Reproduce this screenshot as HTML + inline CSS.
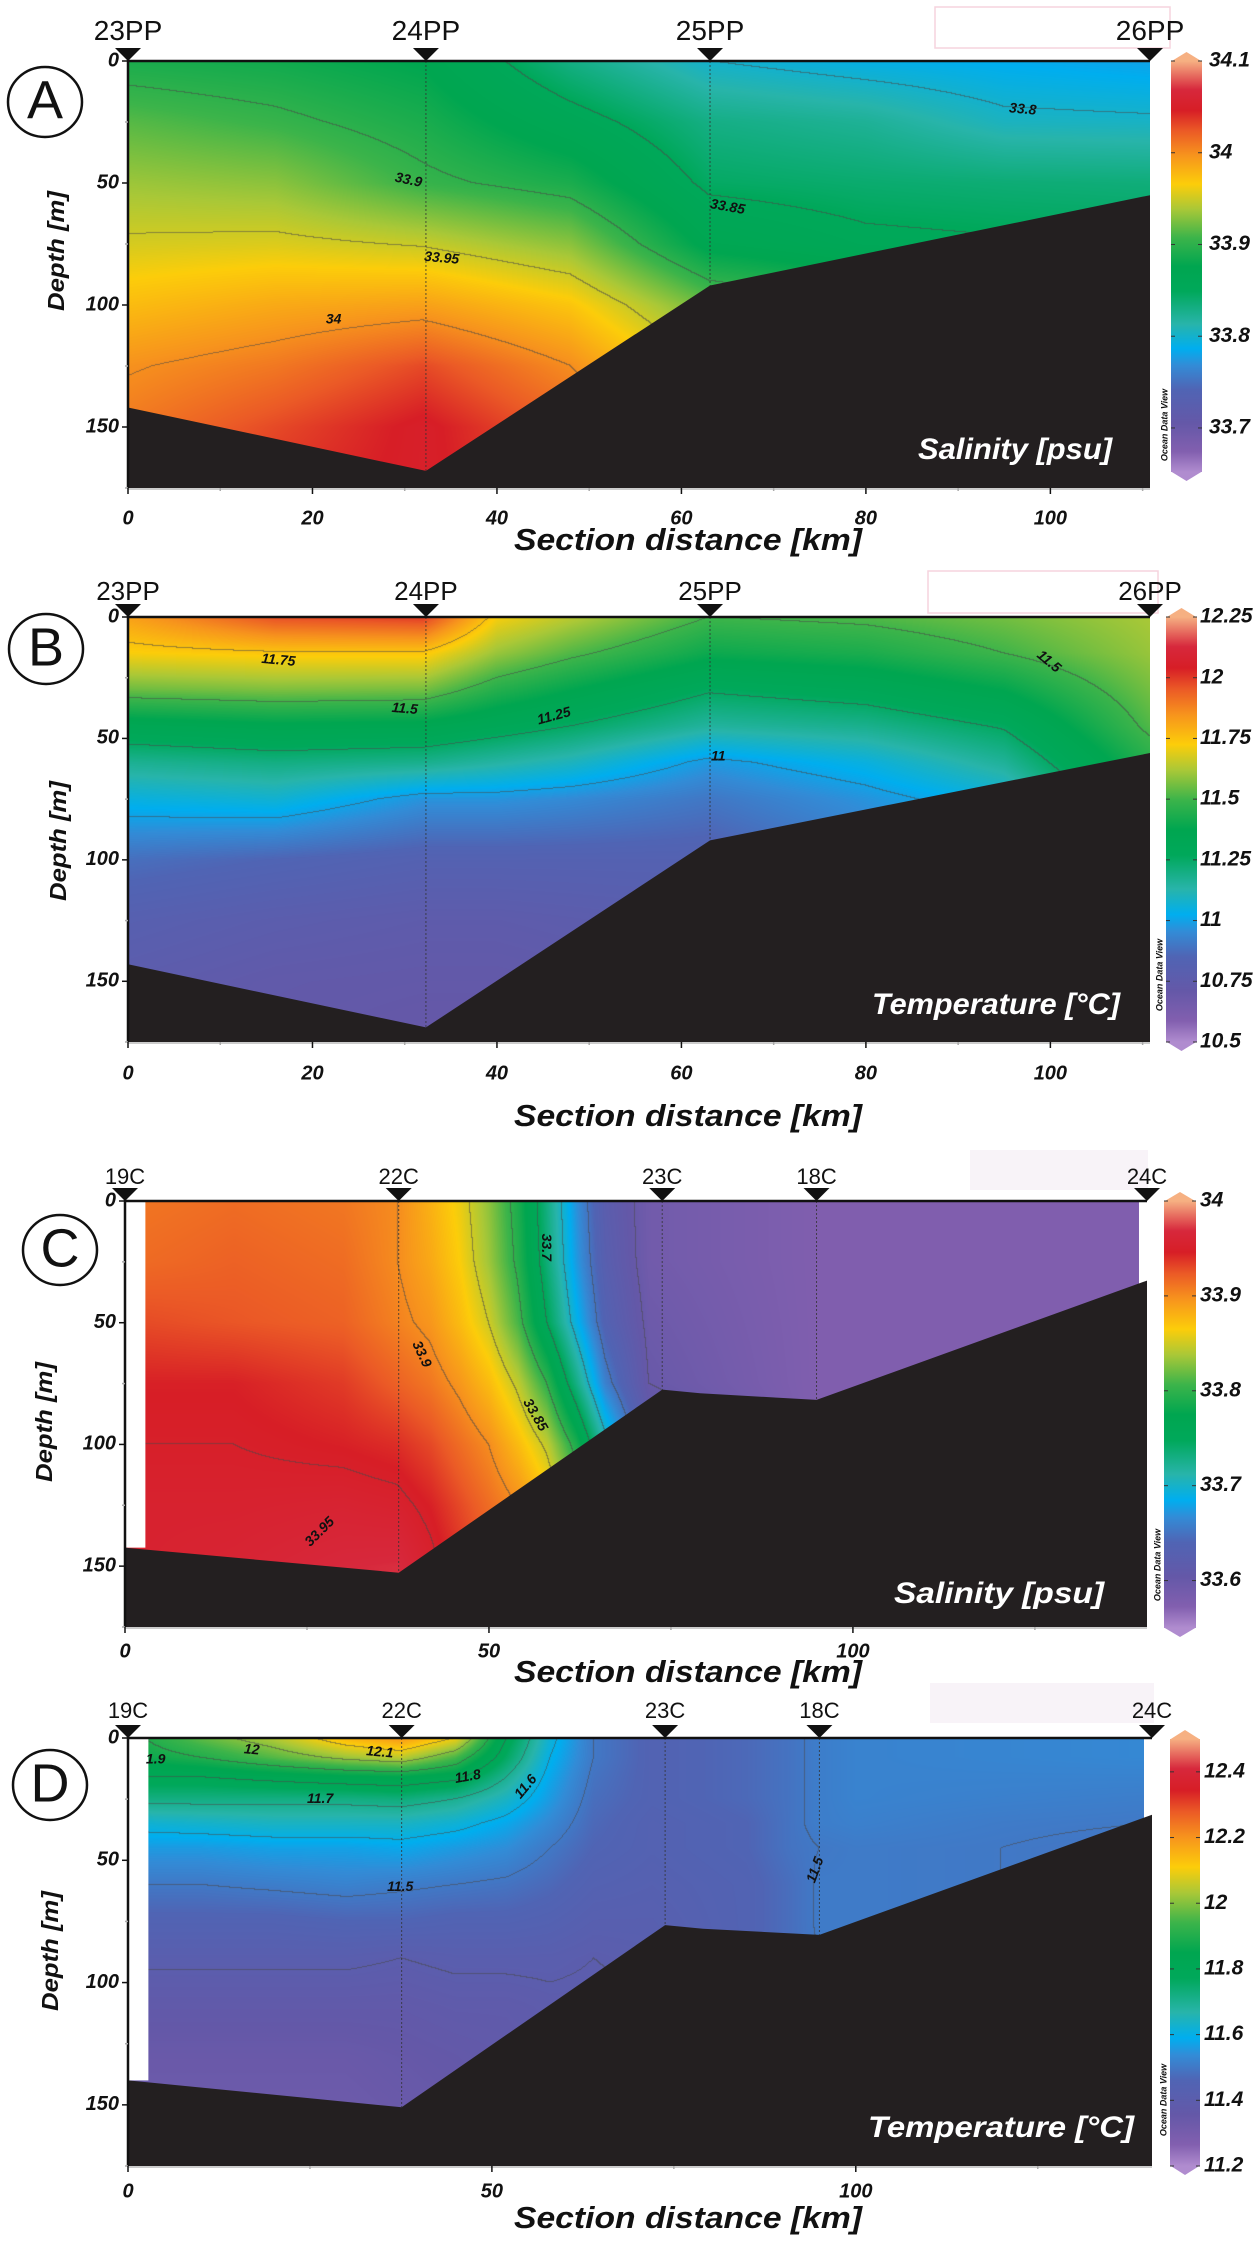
<!DOCTYPE html>
<html><head><meta charset="utf-8">
<style>
html,body{margin:0;padding:0;background:#fff;}
#wrap{position:relative;width:1254px;height:2244px;overflow:hidden;background:#fff;}
canvas{position:absolute;}
#ov{position:absolute;left:0;top:0;}
</style></head>
<body>
<div id="wrap">
<canvas id="cvA"></canvas>
<canvas id="cvB"></canvas>
<canvas id="cvC"></canvas>
<canvas id="cvD"></canvas>
<svg id="ov" width="1254" height="2244" xmlns="http://www.w3.org/2000/svg"></svg>
</div>
<script>
// ---------- DATA ----------
const salA_x = [0,16,32,48,63,80,95,110.8];
const salA_depth = [0,25,50,75,100,125,150,175];
const salA_values = [
 [33.89,33.915,33.935,33.953,33.975,33.998,34.01,34.02],
 [33.885,33.905,33.93,33.955,33.985,34.01,34.03,34.04],
 [33.875,33.89,33.905,33.948,33.99,34.03,34.05,34.05],
 [33.83,33.86,33.89,33.93,33.97,34.0,34.02,34.03],
 [33.80,33.83,33.845,33.87,33.92,33.95,33.97,33.98],
 [33.79,33.822,33.84,33.855,33.9,33.93,33.95,33.96],
 [33.785,33.805,33.837,33.852,33.89,33.92,33.94,33.95],
 [33.78,33.803,33.835,33.85,33.88,33.9,33.92,33.93]
];
const salA_levels = [33.8,33.85,33.9,33.95,34];
const bathyA_x = [0,32.3,63.1,110.8];
const bathyA_depth = [142,168,92,55];
const stationsA_x = [0,32.3,63.1,110.8];
const stationsA_names = ["23PP","24PP","25PP","26PP"];
const cbA_ticks = [34.1,34,33.9,33.8,33.7];

const tempB_x = [0,16,32,40,48,63,80,95,110.8];
const tempB_depth = [0,15,30,45,60,75,100,125,150,175];
const tempB_values = [
 [11.82,11.72,11.55,11.33,11.17,11.05,10.88,10.8,10.76,10.75],
 [11.97,11.74,11.57,11.36,11.2,11.07,10.85,10.77,10.73,10.72],
 [12.0,11.74,11.56,11.35,11.18,10.97,10.82,10.75,10.72,10.7],
 [11.72,11.6,11.45,11.3,11.14,10.97,10.82,10.75,10.72,10.7],
 [11.64,11.52,11.38,11.25,11.1,10.95,10.82,10.76,10.73,10.72],
 [11.5,11.4,11.26,11.15,10.98,10.9,10.82,10.78,10.75,10.74],
 [11.52,11.43,11.3,11.18,11.05,10.97,10.9,10.85,10.8,10.8],
 [11.56,11.5,11.38,11.26,11.16,11.05,10.95,10.9,10.85,10.85],
 [11.62,11.6,11.56,11.52,11.45,11.4,11.3,11.2,11.1,11.1]
];
const tempB_levels = [11,11.25,11.5,11.75];
const bathyB_x = [0,32.3,63.1,110.8];
const bathyB_depth = [143,169,92,56];
const stationsB_x = [0,32.3,63.1,110.8];
const stationsB_names = ["23PP","24PP","25PP","26PP"];
const cbB_ticks = [12.25,12,11.75,11.5,11.25,11,10.75,10.5];

const salC_x = [0,15,30,37.5,42,46,50,54,58,62,66,72,95,140.4];
const salC_depth = [0,25,50,75,100,125,150,175];
const salC_values = [
 [33.91,33.915,33.93,33.945,33.95,33.955,33.955,33.955],
 [33.915,33.92,33.925,33.945,33.95,33.955,33.96,33.96],
 [33.91,33.915,33.92,33.935,33.945,33.958,33.968,33.968],
 [33.9,33.9,33.905,33.92,33.94,33.955,33.97,33.97],
 [33.88,33.885,33.895,33.91,33.93,33.945,33.955,33.955],
 [33.86,33.865,33.875,33.895,33.915,33.93,33.94,33.94],
 [33.83,33.835,33.85,33.875,33.9,33.915,33.925,33.925],
 [33.79,33.795,33.81,33.845,33.875,33.9,33.91,33.91],
 [33.73,33.735,33.75,33.8,33.845,33.875,33.89,33.89],
 [33.67,33.675,33.69,33.73,33.79,33.83,33.85,33.85],
 [33.62,33.625,33.635,33.66,33.71,33.76,33.78,33.78],
 [33.59,33.59,33.595,33.6,33.62,33.64,33.65,33.65],
 [33.575,33.575,33.575,33.575,33.575,33.575,33.575,33.575],
 [33.575,33.575,33.575,33.575,33.575,33.575,33.575,33.575]
];
const salC_levels = [33.6,33.65,33.7,33.75,33.8,33.85,33.9,33.95];
const bathyC_x = [0,37.6,73.8,79,95,140.4];
const bathyC_depth = [142.4,152.7,77.5,79,81.7,32.7];
const stationsC_x = [0,37.6,73.8,95,140.4];
const stationsC_names = ["19C","22C","23C","18C","24C"];
const cbC_ticks = [34,33.9,33.8,33.7,33.6];

const tempD_x = [0,10,20,30,37.5,45,52,58,64,72,85,91,95,100,120,140.7];
const tempD_depth = [0,8,16,25,35,45,60,75,90,110,130,150,175];
const tempD_values = [
 [11.88,11.86,11.8,11.72,11.62,11.56,11.5,11.45,11.41,11.37,11.34,11.33,11.33],
 [11.97,11.9,11.8,11.72,11.63,11.56,11.5,11.45,11.41,11.37,11.34,11.33,11.33],
 [12.04,11.96,11.82,11.72,11.64,11.57,11.51,11.45,11.41,11.37,11.34,11.33,11.33],
 [12.15,12.02,11.84,11.72,11.64,11.57,11.52,11.46,11.41,11.37,11.34,11.33,11.33],
 [12.2,12.05,11.85,11.73,11.64,11.58,11.51,11.46,11.4,11.37,11.35,11.34,11.34],
 [12.1,11.95,11.82,11.7,11.62,11.56,11.5,11.45,11.41,11.38,11.36,11.35,11.35],
 [11.8,11.76,11.7,11.64,11.58,11.54,11.49,11.45,11.41,11.38,11.37,11.36,11.36],
 [11.62,11.6,11.58,11.56,11.53,11.5,11.47,11.44,11.41,11.39,11.38,11.37,11.37],
 [11.5,11.5,11.49,11.48,11.47,11.46,11.44,11.42,11.4,11.39,11.38,11.38,11.38],
 [11.45,11.45,11.45,11.45,11.44,11.44,11.43,11.42,11.41,11.4,11.4,11.4,11.4],
 [11.47,11.47,11.47,11.47,11.46,11.46,11.45,11.45,11.45,11.45,11.45,11.45,11.45],
 [11.49,11.49,11.49,11.49,11.49,11.49,11.48,11.48,11.48,11.48,11.48,11.48,11.48],
 [11.51,11.51,11.51,11.51,11.51,11.5,11.505,11.505,11.5,11.5,11.5,11.5,11.5],
 [11.52,11.52,11.52,11.52,11.515,11.505,11.505,11.505,11.505,11.505,11.505,11.505,11.505],
 [11.525,11.525,11.52,11.515,11.505,11.5,11.5,11.5,11.5,11.5,11.5,11.5,11.5],
 [11.53,11.53,11.52,11.51,11.5,11.49,11.49,11.49,11.49,11.49,11.49,11.49,11.49]
];
const tempD_levels = [11.4,11.5,11.6,11.7,11.8,11.9,12,12.1];
const bathyD_x = [0,37.6,73.8,79,95,140.7];
const bathyD_depth = [140,151,76.5,78,80.5,31.4];
const stationsD_x = [0,37.6,73.8,95,140.7];
const stationsD_names = ["19C","22C","23C","18C","24C"];
const cbD_ticks = [12.4,12.2,12,11.8,11.6,11.4,11.2];

const labelsA = [["33.9",30.4,49,12],["33.95",34,81,5],["34",22.3,106,0],["33.85",65,60,10],["33.8",97,20,5]];
const labelsB = [["11.75",16.3,18,5],["11.5",30,38,5],["11.25",46.2,41,-15],["11",64,57.6,0],["11.5",99.8,18.5,40]];
const labelsC = [["33.7",57.8,19,90],["33.9",40.7,63,65],["33.85",56.3,88,60],["33.95",26.8,136,-45]];
const labelsD = [["1.9",3.8,9,0],["12",17,5,5],["12.1",34.6,6,5],["11.8",46.7,16,-10],["11.7",26.4,25,0],["11.6",54.7,20,-50],["11.5",37.4,61,0],["11.5",94.5,54,-70]];

// ---------- COLORMAP ----------
const CMAP = [
 [0.0,[176,140,207]],[0.05,[130,95,175]],[0.12,[100,88,168]],[0.2,[80,100,180]],
 [0.26,[50,140,215]],[0.3,[0,174,239]],[0.36,[40,180,170]],[0.44,[0,168,90]],
 [0.5,[0,166,80]],[0.57,[60,180,74]],[0.64,[170,200,55]],[0.7,[252,205,10]],
 [0.77,[247,148,29]],[0.83,[235,90,38]],[0.88,[215,30,38]],[0.93,[215,40,60]],[1.0,[246,176,130]]
];
function cmap(f){
  f=Math.max(0,Math.min(1,f));
  for(let i=0;i<CMAP.length-1;i++){
    const a=CMAP[i],b=CMAP[i+1];
    if(f<=b[0]){const t=(f-a[0])/(b[0]-a[0]);return [0,1,2].map(k=>a[1][k]+(b[1][k]-a[1][k])*t);}
  }
  return CMAP[CMAP.length-1][1];
}
function findIdx(arr,v){
  let i=0;while(i<arr.length-2&&v>arr[i+1])i++;
  let t=(v-arr[i])/(arr[i+1]-arr[i]);t=Math.max(0,Math.min(1,t));
  return [i,t];
}
function interp(xs,ds,vals,x,d){
  const [i,tx]=findIdx(xs,x);const [j,td]=findIdx(ds,d);
  const v00=vals[i][j],v01=vals[i][j+1],v10=vals[i+1][j],v11=vals[i+1][j+1];
  return (v00*(1-td)+v01*td)*(1-tx)+(v10*(1-td)+v11*td)*tx;
}

// ---------- LAYOUT ----------
const panels = [
 {id:'A',cv:'cvA',left:128,top:61,right:1150,bottom:488,xmax:110.8,dmax:175,xs:salA_x,ds:salA_depth,vals:salA_values,levels:salA_levels,
  bx:bathyA_x,bd:bathyA_depth,sx:stationsA_x,sn:stationsA_names,ticks:cbA_ticks,labels:labelsA,xt:[0,20,40,60,80,100],xminor:10,
  cb:{x:1171,w:31,y0:61,y1:472,vmax:34.1,vmin:33.652,lx:1209},gap:false,letter:'A',lc:[45,102],
  stY:40,stFont:28,narrow:false,title:'Salinity [psu]',tR:1112,tY:451,tW:194,axY:542,depthX:58,depthY:251,xlY:519,otY:425,pink:[935,7,235,41,false]},
 {id:'B',cv:'cvB',left:128,top:617,right:1150,bottom:1042,xmax:110.8,dmax:175,xs:tempB_x,ds:tempB_depth,vals:tempB_values,levels:tempB_levels,
  bx:bathyB_x,bd:bathyB_depth,sx:stationsB_x,sn:stationsB_names,ticks:cbB_ticks,labels:labelsB,xt:[0,20,40,60,80,100],xminor:10,
  cb:{x:1166,w:31,y0:617,y1:1042,vmax:12.25,vmin:10.5,lx:1200},gap:false,letter:'B',lc:[46,649],
  stY:600,stFont:26,narrow:true,title:'Temperature [°C]',tR:1120,tY:1006,tW:248,axY:1118,depthX:60,depthY:841,xlY:1074,otY:975,pink:[928,571,230,42,false]},
 {id:'C',cv:'cvC',left:125,top:1201,right:1147,bottom:1627,xmax:140.4,dmax:175,xs:salC_x,ds:salC_depth,vals:salC_values,levels:salC_levels,
  bx:bathyC_x,bd:bathyC_depth,sx:stationsC_x,sn:stationsC_names,ticks:cbC_ticks,labels:labelsC,xt:[0,50,100],xminor:25,
  cb:{x:1164,w:32,y0:1201,y1:1628,vmax:34,vmin:33.55,lx:1200},gap:true,letter:'C',lc:[60,1250],
  stY:1184,stFont:22,narrow:true,title:'Salinity [psu]',tR:1104,tY:1595,tW:210,axY:1674,depthX:46,depthY:1422,xlY:1652,otY:1565,pink:[970,1150,178,40,true]},
 {id:'D',cv:'cvD',left:128,top:1738,right:1152,bottom:2166,xmax:140.7,dmax:175,xs:tempD_x,ds:tempD_depth,vals:tempD_values,levels:tempD_levels,
  bx:bathyD_x,bd:bathyD_depth,sx:stationsD_x,sn:stationsD_names,ticks:cbD_ticks,labels:labelsD,xt:[0,50,100],xminor:25,
  cb:{x:1170,w:30,y0:1739,y1:2166,vmax:12.5,vmin:11.2,lx:1204},gap:true,letter:'D',lc:[50,1785],
  stY:1718,stFont:22,narrow:true,title:'Temperature [°C]',tR:1134,tY:2129,tW:266,axY:2220,depthX:52,depthY:1951,xlY:2192,otY:2100,pink:[930,1683,224,40,true]}
];

const NS='http://www.w3.org/2000/svg';
const svg=document.getElementById('ov');
function mk(tag,attrs,parent){const e=document.createElementNS(NS,tag);for(const k in attrs)e.setAttribute(k,attrs[k]);(parent||svg).appendChild(e);return e;}
const BOLDI='font-weight:bold;font-style:italic;';

panels.forEach(p=>{
  const W=p.right-p.left,H=p.bottom-p.top;
  const X=km=>p.left+km/p.xmax*W;
  const Y=d=>p.top+d/p.dmax*H;
  const cb=p.cb;
  const F=v=>(v-cb.vmin)/(cb.vmax-cb.vmin);
  const cv=document.getElementById(p.cv);
  cv.width=W;cv.height=H;cv.style.left=p.left+'px';cv.style.top=p.top+'px';
  const ctx=cv.getContext('2d');
  const img=ctx.createImageData(W,H);
  const lv=new Int16Array(W*H);const vv=new Float32Array(W*H);
  for(let py=0;py<H;py++){const d=(py+0.5)/H*p.dmax;
    for(let px=0;px<W;px++){const km=(px+0.5)/W*p.xmax;
      const v=interp(p.xs,p.ds,p.vals,km,d);vv[py*W+px]=v;
      let c=0;for(const L of p.levels)if(v>=L)c++;lv[py*W+px]=c;}}
  for(let py=0;py<H;py++)for(let px=0;px<W;px++){
    const k=py*W+px;let col=cmap(F(vv[k]));
    const isC=(px<W-1&&lv[k]!==lv[k+1])||(py<H-1&&lv[k]!==lv[k+W]);
    if(isC)col=col.map(c=>c*0.45+40);
    img.data[k*4]=col[0];img.data[k*4+1]=col[1];img.data[k*4+2]=col[2];img.data[k*4+3]=255;}
  ctx.putImageData(img,0,0);

  const g=mk('g',{});
  
  

  // pink box (drawn first so labels stay on top)
  const pk=mk('rect',{x:p.pink[0],y:p.pink[1],width:p.pink[2],height:p.pink[3],fill:p.pink[4]?'#f8f3f8':'none',stroke:p.pink[4]?'none':'#f6d4de','stroke-width':1.5},g);
  
  

  if(p.gap){
    const bl=p.bd[0];
    const r1=mk('rect',{x:p.left,y:p.top,width:X(2.8)-p.left,height:Y(bl)-p.top,fill:'#fff'},g);
    
    
    const r2=mk('rect',{x:X(p.xmax-1.1),y:p.top,width:X(p.xmax)-X(p.xmax-1.1),height:Y(p.bd[p.bd.length-1]+3)-p.top,fill:'#fff'},g);
    
    
  }
  p.sx.forEach((s,i)=>{
    if(i===0||i===p.sx.length-1)return;
    const [bi,bt]=findIdx(p.bx,s);const bd=p.bd[bi]+(p.bd[bi+1]-p.bd[bi])*bt;
    const l=mk('line',{x1:X(s),y1:p.top,x2:X(s),y2:Y(bd),stroke:'#333','stroke-width':1,'stroke-dasharray':'2,2',opacity:0.8},g);
    
    
  });
  p.labels.forEach(lb=>{
    const t=mk('text',{x:X(lb[1]),y:Y(lb[2]),'text-anchor':'middle','dominant-baseline':'middle',
      transform:`rotate(${lb[3]} ${X(lb[1])} ${Y(lb[2])})`,style:BOLDI+'font-family:"Liberation Sans Narrow","Liberation Sans",sans-serif;font-size:14px;fill:#111;'},g);
    t.textContent=lb[0];
    
    
  });
  let pts=`${X(0)},${Y(p.dmax)} `;
  p.bx.forEach((x,i)=>{pts+=`${X(x)},${Y(p.bd[i])} `;});
  pts+=`${X(p.xmax)},${Y(p.dmax)}`;
  const bp=mk('polygon',{points:pts,fill:'#231f20'},g);
  
  
  const it=mk('text',{x:p.tR,y:p.tY,'text-anchor':'end','dominant-baseline':'middle',textLength:p.tW,lengthAdjust:'spacingAndGlyphs',
    style:BOLDI+'font-family:"Liberation Sans",sans-serif;font-size:30px;fill:#fff;'},g);
  it.textContent=p.title;
  
  
  const ax=mk('path',{d:`M${p.left},${p.bottom} L${p.left},${p.top} L${p.right},${p.top}`,fill:'none',stroke:'#111','stroke-width':2.5},g);
  
  
  const xb=mk('line',{x1:p.left,y1:p.bottom+1,x2:p.right,y2:p.bottom+1,stroke:'#999','stroke-width':1},g);
  
  
  for(let d=0;d<=p.dmax;d+=25){
    const major=d%50===0;
    const tk=mk('line',{x1:p.left-(major?6:3),y1:Y(d),x2:p.left,y2:Y(d),stroke:major?'#111':'#aaa','stroke-width':1.5},g);
    
    
    if(major&&d<=150){
      const t=mk('text',{x:p.left-9,y:Y(d),'text-anchor':'end','dominant-baseline':'middle',
        style:BOLDI+`font-family:${p.narrow?'"Liberation Sans Narrow",':''}"Liberation Sans",sans-serif;font-size:20px;fill:#111;`},g);
      t.textContent=String(d);
      
      
    }
  }
  for(let k=0;k<=p.xmax;k+=p.xminor){
    const major=p.xt.includes(k);
    const tk=mk('line',{x1:X(k),y1:p.bottom,x2:X(k),y2:p.bottom+(major?6:3),stroke:major?'#111':'#aaa','stroke-width':1.5},g);
    
    
  }
  p.xt.forEach(k=>{
    const t=mk('text',{x:X(k),y:p.xlY,'text-anchor':'middle','dominant-baseline':'middle',
      style:BOLDI+`font-family:${p.narrow?'"Liberation Sans Narrow",':''}"Liberation Sans",sans-serif;font-size:20px;fill:#111;`},g);
    t.textContent=String(k);
    
    
  });
  const xt=mk('text',{x:688,y:p.axY,'text-anchor':'middle','dominant-baseline':'middle',textLength:348,lengthAdjust:'spacingAndGlyphs',
    style:BOLDI+'font-family:"Liberation Sans",sans-serif;font-size:31px;fill:#111;'},g);
  xt.textContent='Section distance [km]';
  
  
  const yt=mk('text',{x:p.depthX,y:p.depthY,'text-anchor':'middle','dominant-baseline':'middle',textLength:120,lengthAdjust:'spacingAndGlyphs',
    transform:`rotate(-90 ${p.depthX} ${p.depthY})`,style:BOLDI+'font-family:"Liberation Sans",sans-serif;font-size:23px;fill:#111;'},g);
  yt.textContent='Depth [m]';
  
  
  p.sx.forEach((s,i)=>{
    const tri=mk('polygon',{points:`${X(s)-13},${p.top-13} ${X(s)+13},${p.top-13} ${X(s)},${p.top}`,fill:'#111'},g);
    
    
    const t=mk('text',{x:X(s),y:p.stY,'text-anchor':'middle',
      style:`font-family:${p.narrow?'"Liberation Sans Narrow",':''}"Liberation Sans",sans-serif;font-size:${p.stFont}px;fill:#111;`},g);
    t.textContent=p.sn[i];
    
    
  });
  const ci=mk('ellipse',{cx:p.lc[0],cy:p.lc[1],rx:37,ry:35,fill:'#fff',stroke:'#111','stroke-width':2.5},g);
  
  
  const lt=mk('text',{x:p.lc[0],y:p.lc[1]+2,'text-anchor':'middle','dominant-baseline':'middle',style:'font-family:"Liberation Sans",sans-serif;font-size:54px;fill:#111;'},g);
  lt.textContent=p.letter;
  
  
  const gid='grad'+p.id;
  const defs=mk('defs',{},g);
  const lg=mk('linearGradient',{id:gid,x1:0,y1:1,x2:0,y2:0},defs);
  CMAP.forEach(s=>{mk('stop',{offset:s[0],'stop-color':`rgb(${s[1].map(Math.round).join(',')})`},lg);});
  const cbr=mk('rect',{x:cb.x,y:cb.y0,width:cb.w,height:cb.y1-cb.y0,fill:`url(#${gid})`},g);
  
  
  const ta=mk('polygon',{points:`${cb.x},${cb.y0+0.5} ${cb.x+cb.w/2},${cb.y0-9} ${cb.x+cb.w},${cb.y0+0.5}`,fill:'rgb(246,176,130)'},g);
  
  
  const ba=mk('polygon',{points:`${cb.x},${cb.y1-0.5} ${cb.x+cb.w/2},${cb.y1+9} ${cb.x+cb.w},${cb.y1-0.5}`,fill:'rgb(176,140,207)'},g);
  
  
  const CY=v=>cb.y1-(v-cb.vmin)/(cb.vmax-cb.vmin)*(cb.y1-cb.y0);
  p.ticks.forEach(v=>{
    const y=CY(v);
    const l1=mk('line',{x1:cb.x,y1:y,x2:cb.x+4,y2:y,stroke:'#333','stroke-width':1},g);
    
    
    const l2=mk('line',{x1:cb.x+cb.w-4,y1:y,x2:cb.x+cb.w,y2:y,stroke:'#333','stroke-width':1},g);
    
    
    const t=mk('text',{x:cb.lx,y:y,'dominant-baseline':'middle',
      style:BOLDI+`font-family:${p.narrow?'"Liberation Sans Narrow",':''}"Liberation Sans",sans-serif;font-size:21px;fill:#111;`},g);
    t.textContent=String(v);
    
    
  });
  const od=mk('text',{x:cb.x-6,y:p.otY,'text-anchor':'middle','dominant-baseline':'middle',transform:`rotate(-90 ${cb.x-6} ${p.otY})`,
    style:BOLDI+'font-family:"Liberation Sans",sans-serif;font-size:9px;fill:#111;'},g);
  od.textContent='Ocean Data View';
  
  
});
</script>
</body></html>
